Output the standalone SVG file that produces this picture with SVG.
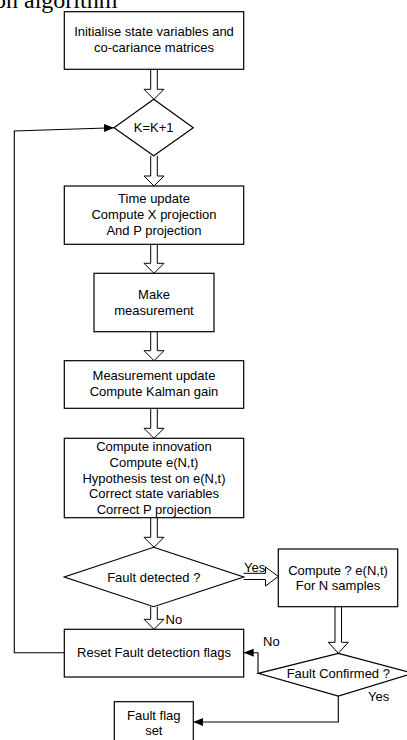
<svg xmlns="http://www.w3.org/2000/svg" width="407" height="740" viewBox="0 0 407 740">
<defs>
<style>
.box{fill:#fff;stroke:#000;stroke-width:1.2}
.t{font-family:"Liberation Sans",Arial,sans-serif;font-size:13px;fill:#000;text-anchor:middle}
.lbl{font-family:"Liberation Sans",Arial,sans-serif;font-size:13px;fill:#000}
.ha{fill:#fff;stroke:#000;stroke-width:1}
.ln{fill:none;stroke:#000;stroke-width:1.1}
</style>
<marker id="ah" viewBox="0 0 10 8" refX="10" refY="4" markerWidth="10" markerHeight="8" markerUnits="userSpaceOnUse" orient="auto">
<path d="M0,0 L10,4 L0,8 Z" fill="#000"/>
</marker>
</defs>
<rect width="407" height="740" fill="#fff"/>
<text x="-6" y="8" font-family="'Liberation Serif','Times New Roman',serif" font-size="24" fill="#000">on algorithm</text>

<g id="connectors">
<path class="ha" d="M150.7,69.3 V89.3 H144 L154,99.3 L164,89.3 H157.3 V69.3"/>
<path class="ha" d="M150.7,155.7 V176 H144 L154,186 L164,176 H157.3 V155.7"/>
<path class="ha" d="M150.7,244.3 V263.3 H144 L154,273.3 L164,263.3 H157.3 V244.3"/>
<path class="ha" d="M150.7,331.7 V350.7 H144 L154,360.7 L164,350.7 H157.3 V331.7"/>
<path class="ha" d="M150.7,408.3 V428.3 H144 L154,438.3 L164,428.3 H157.3 V408.3"/>
<path class="ha" d="M150.7,517.7 V537.3 H144 L154,547.3 L164,537.3 H157.3 V517.7"/>
<path class="ha" d="M150.7,606.7 V619.3 H144 L154,629.3 L164,619.3 H157.3 V606.7"/>
<path class="ha" d="M335,606.7 V642.3 H328.3 L338.3,653.3 L348.3,642.3 H341.5 V606.7"/>
<path class="ha" d="M243.7,573.3 H265.5 V567 L278.3,576.5 L265.5,586 V579.5 H243.7"/>
<polyline class="ln" points="64.3,652.7 14.3,652.7 14.3,131 114,127.7" marker-end="url(#ah)"/>
<polyline class="ln" points="258,673.3 258,652.7 243.7,652.7" marker-end="url(#ah)"/>
<polyline class="ln" points="338.3,696 338.3,722 193.3,722" marker-end="url(#ah)"/>
<text class="lbl" x="244" y="572">Yes</text>
<text class="lbl" x="165.5" y="623.5">No</text>
<text class="lbl" x="263" y="646">No</text>
<text class="lbl" x="368" y="701">Yes</text>
</g>

<g id="init">
<rect class="box" x="64.3" y="11.7" width="179.4" height="57.6"/>
<text class="t" x="154" y="36.2">Initialise state variables and</text>
<text class="t" x="154" y="52.2">co-cariance matrices</text>
</g>
<g id="increment">
<polygon class="box" points="153.7,99.3 193.3,127.7 153.7,155.7 114,127.7"/>
<text class="t" x="153.7" y="132">K=K+1</text>
</g>
<g id="time-update">
<rect class="box" x="64.3" y="186" width="179.4" height="58.3"/>
<text class="t" x="154" y="202.8">Time update</text>
<text class="t" x="154" y="218.8">Compute X projection</text>
<text class="t" x="154" y="234.8">And P projection</text>
</g>
<g id="measure">
<rect class="box" x="94" y="273.3" width="120" height="58.4"/>
<text class="t" x="154" y="298.8">Make</text>
<text class="t" x="154" y="314.8">measurement</text>
</g>
<g id="measurement-update">
<rect class="box" x="64.3" y="360.7" width="179.4" height="47.6"/>
<text class="t" x="154" y="379.8">Measurement update</text>
<text class="t" x="154" y="395.8">Compute Kalman gain</text>
</g>
<g id="innovation">
<rect class="box" x="64.3" y="438.3" width="179.4" height="79.4"/>
<text class="t" x="154" y="451.2">Compute innovation</text>
<text class="t" x="154" y="466.8">Compute e(N,t)</text>
<text class="t" x="154" y="482.5">Hypothesis test on e(N,t)</text>
<text class="t" x="154" y="498.2">Correct state variables</text>
<text class="t" x="154" y="513.8">Correct P projection</text>
</g>
<g id="fault-detected">
<polygon class="box" points="153.7,547.3 243.7,577 153.7,606.7 64.3,577"/>
<text class="t" x="153.8" y="581.5">Fault detected ?</text>
</g>
<g id="compute-samples">
<rect class="box" x="278.3" y="549" width="119.4" height="57.7"/>
<text class="t" x="338" y="574.5">Compute ? e(N,t)</text>
<text class="t" x="338" y="590">For N samples</text>
</g>
<g id="reset">
<rect class="box" x="64.3" y="629.3" width="179.4" height="47.7"/>
<text class="t" x="154" y="656.5">Reset Fault detection flags</text>
</g>
<g id="fault-confirmed">
<polygon class="box" points="338.3,653.3 413,673.3 338.3,696 258.3,673.3"/>
<text class="t" x="338.3" y="677.8">Fault Confirmed ?</text>
</g>
<g id="fault-flag">
<rect class="box" x="114.3" y="701.7" width="79" height="45"/>
<text class="t" x="153.8" y="719.5">Fault flag</text>
<text class="t" x="153.8" y="734.5">set</text>
</g>
</svg>
